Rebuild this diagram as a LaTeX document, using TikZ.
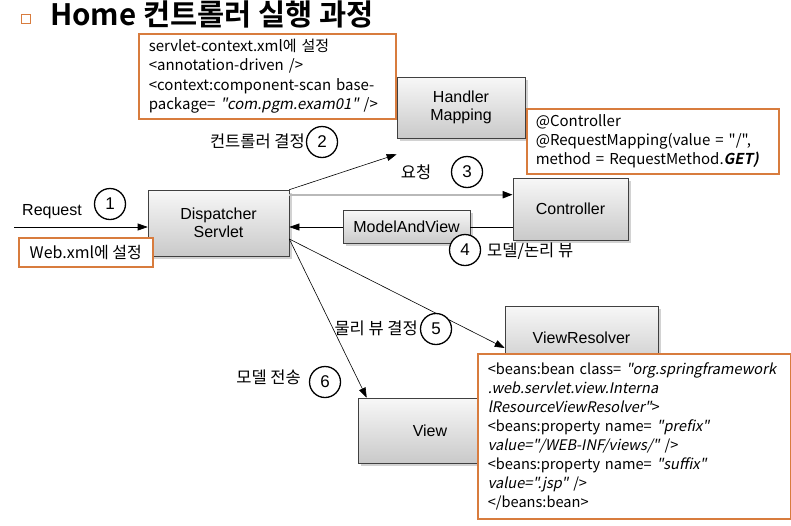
\documentclass[tikz,border=0pt]{standalone}
\usepackage{fontspec}
\setmainfont{Noto Sans CJK KR}[Ligatures=TeXOff,ItalicFont={Noto Sans CJK KR},ItalicFeatures={FakeSlant=0.2},BoldFont={Noto Sans CJK KR Bold},BoldItalicFont={Noto Sans CJK KR Bold},BoldItalicFeatures={FakeSlant=0.2}]
\newfontfamily\labfont{Liberation Sans}
\usetikzlibrary{arrows.meta,shadows,calc}
\definecolor{obr}{RGB}{216,124,62}
\tikzset{
  gbox/.style={draw=black!75, line width=0.6pt, top color=gray!6, bottom color=gray!42,
    drop shadow={shadow xshift=2.5pt,shadow yshift=-2.5pt,fill=gray!70},
    font=\labfont\fontsize{16}{18}\selectfont, align=center, inner sep=0pt},
  obox/.style={draw=obr, line width=1.6pt, fill=white, align=left, inner ysep=2pt,
    font=\fontsize{15}{19.3}\selectfont},
  numc/.style={circle, draw=black, line width=1.3pt, minimum size=31pt, inner sep=0pt,
    font=\labfont\fontsize{17}{18}\selectfont, fill=white},
  lbl/.style={font=\fontsize{16.5}{18}\selectfont, inner sep=0pt},
  arr/.style={line width=0.6pt, -{Triangle[length=10pt,width=7pt]}},
}
\begin{document}
\begin{tikzpicture}[x=1pt,y=-1pt]
\useasboundingbox (0,0) rectangle (791,525);
% title
\node[draw=obr, line width=1.4pt, fill=white, minimum size=9pt, inner sep=0pt] (bul) at (26,19) {};
\node[anchor=base west, inner sep=0pt, font=\bfseries\fontsize{29.5}{32}\selectfont] (title) at (50,25.5) {Home 컨트롤러 실행 과정};
% gray boxes
\node[gbox, minimum width=141pt, minimum height=66pt] (disp) at (218.5,223) {Dispatcher\\Servlet};
\node[gbox, minimum width=128pt, minimum height=61pt] (hm) at (461,107.5) {Handler\\Mapping};
\node[gbox, minimum width=115pt, minimum height=62pt] (ctrl) at (570.5,209) {Controller};
\node[gbox, minimum width=127pt, minimum height=33pt] (mav) at (406.5,227) {ModelAndView};
\node[gbox, minimum width=153pt, minimum height=64pt] (vr) at (581.5,338) {ViewResolver};
\node[gbox, minimum width=144pt, minimum height=65pt] (view) at (430,430.5) {View};
% connectors
\coordinate (reqstart) at (14,227);
\draw[arr] (reqstart) -- (disp.west |- reqstart);
\node[font=\labfont\fontsize{16}{18}\selectfont, inner sep=0pt] (req) at (52,212) {Request};
\draw[arr] (disp.north east) -- ([yshift=-16pt]hm.south west);
\coordinate (dtop) at ([yshift=-5pt]disp.north east);
\draw[line width=1.8pt, gray!55, -{Triangle[length=10pt,width=7pt,color=black]}] (dtop) -- (ctrl.west |- dtop);
\draw[line width=0.6pt] (ctrl.west |- mav.east) -- (mav.east);
\draw[arr] (mav.west) -- (disp.east |- mav.west);
\coordinate (dlow) at ([yshift=-16pt]disp.east);
\draw[arr] (dlow) -- ([yshift=-10pt]vr.west);
\draw[arr] (dlow) -- ([xshift=9pt]view.north west);
% orange boxes
\node[obox, anchor=north west, text width=237pt, inner xsep=10pt, minimum height=85pt] (o1) at (138,33)
 {servlet-context.xml에 설정\\
  <annotation-driven />\\
  <context:component-scan base-\\
  package= \textit{"com.pgm.exam01"} />};
\node[obox, anchor=north west, text width=234pt, inner xsep=9pt, minimum height=65pt] (o2) at (526,108)
 {@Controller\\
  @RequestMapping(value = "/",\\
  method = RequestMethod.\textbf{\textit{GET)}}};
\node[obox, anchor=north west, text width=293pt, inner xsep=10pt, minimum height=165pt, font=\fontsize{14.6}{19.1}\selectfont] (o3) at (477,353)
 {\mbox{<beans:bean class= \textit{"org.springframework}}\\
  \textit{.web.servlet.view.Interna}\\
  \textit{lResourceViewResolver"}>\\
  <beans:property name= \textit{"prefix"}\\
  \textit{value="/WEB-INF/views/"} />\\
  <beans:property name= \textit{"suffix"}\\
  \textit{value=".jsp"} />\\
  </beans:bean>};
\node[obox, align=center, anchor=north west, minimum width=134pt, minimum height=29pt, inner xsep=0pt, font=\fontsize{16}{18}\selectfont] (web) at (18,237) {Web.xml에 설정};
% numbers
\node[numc] (c1) at (110,204) {1};
\node[numc] (c2) at (322,142) {2};
\node[numc] (c3) at (467,172) {3};
\node[numc] (c4) at (465,250) {4};
\node[numc] (c5) at (436,329) {5};
\node[numc] (c6) at (325,382) {6};
% labels
\node[lbl, anchor=east] (l2) at (305,141) {컨트롤러 결정};
\node[lbl] (l3) at (416,172) {요청};
\node[lbl, anchor=west] (l4) at (487,251) {모델/논리 뷰};
\node[lbl, anchor=east] (l5) at (418,328) {물리 뷰 결정};
\node[lbl, anchor=east] (l6) at (301,377) {모델 전송};
\end{tikzpicture}
\end{document}
